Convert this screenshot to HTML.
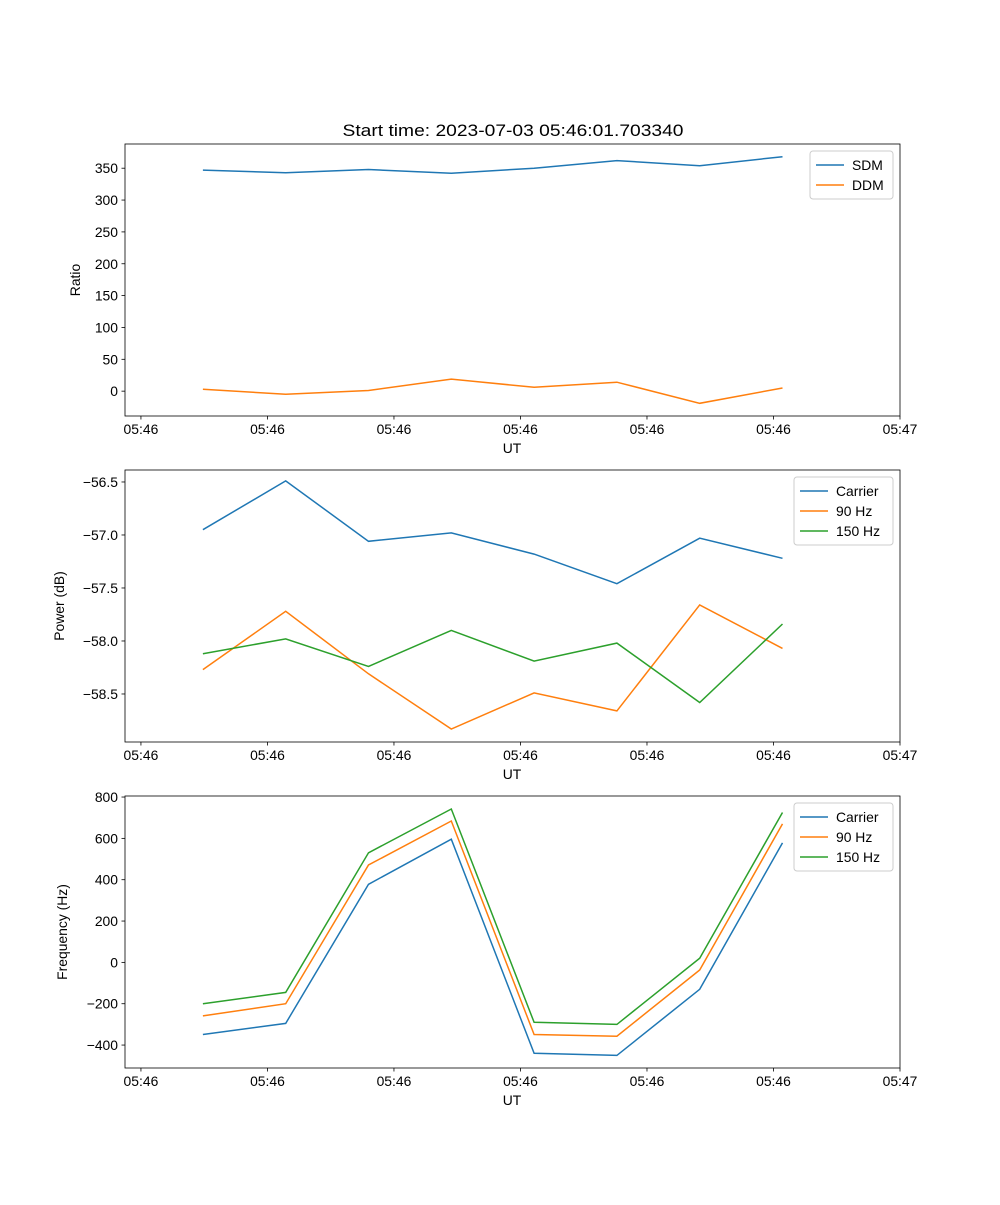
<!DOCTYPE html>
<html><head><meta charset="utf-8"><style>
body{margin:0;background:#fff}
svg text{font-family:"Liberation Sans","DejaVu Sans",sans-serif;fill:#000}
</style></head><body>
<svg id="fig" width="1000" height="1200" xmlns="http://www.w3.org/2000/svg">
<text x="513" y="136" font-size="17" text-anchor="middle" textLength="341" lengthAdjust="spacingAndGlyphs">Start time: 2023-07-03 05:46:01.703340</text>
</svg>
<script>
const timeIdx = [0,1,2,3,4,5,6,7];
const xTickVals = [0,1,2,3,4,5,6];
const xTickLabels = ["05:46","05:46","05:46","05:46","05:46","05:46","05:47"];
const sdm = [347,343,348,342,350,362,354,368];
const ddm = [3,-5,1,19,6,14,-19,5];
const powCarrier = [-56.95,-56.49,-57.06,-56.98,-57.18,-57.46,-57.03,-57.22];
const pow90 = [-58.27,-57.72,-58.31,-58.83,-58.49,-58.66,-57.66,-58.07];
const pow150 = [-58.12,-57.98,-58.24,-57.90,-58.19,-58.02,-58.58,-57.84];
const freqCarrier = [-349,-295,378,596,-440,-450,-130,578];
const freq90 = [-259,-200,471,684,-349,-357,-37,670];
const freq150 = [-200,-145,530,742,-290,-300,20,725];
const ratioTicks = [0,50,100,150,200,250,300,350];
const powTicks = [-56.5,-57.0,-57.5,-58.0,-58.5];
const freqTicks = [-400,-200,0,200,400,600,800];

const svg = document.getElementById('fig');
const NS = 'http://www.w3.org/2000/svg';
function mk(tag, attrs, parent){const e=document.createElementNS(NS,tag);for(const k in attrs)e.setAttribute(k,attrs[k]);(parent||svg).appendChild(e);return e;}
const L=125,R=900;
const tMin=-0.126,tMax=6.0;
const xs = t => L+(t-tMin)/(tMax-tMin)*(R-L);
const tOf = i => 0.49+0.6545*i;

function panel(name, top, bot, yMin, yMax, ticks, fmt, ylabel, ylabX, series, legendX){
  const ys = v => bot-(v-yMin)/(yMax-yMin)*(bot-top);
  const g = mk('g',{});
  
  
  series.forEach(s=>{
    const d = timeIdx.map((i,k)=>(k?'L':'M')+xs(tOf(i)).toFixed(1)+','+ys(s.vals[k]).toFixed(1)).join(' ');
    const p = mk('path',{d:d,fill:'none',stroke:s.color,'stroke-width':1.5},g);
    
    
  });
  const fr = mk('rect',{x:L,y:top,width:R-L,height:bot-top,fill:'none',stroke:'#000','stroke-width':0.8},g);
  
  
  xTickVals.forEach((t,k)=>{
    const x=xs(t);
    mk('line',{x1:x,x2:x,y1:bot,y2:bot+3.5,stroke:'#000','stroke-width':0.8},g);
    const tx = mk('text',{x:x,y:bot+18,'font-size':13.9,'text-anchor':'middle'},g);
    tx.textContent=xTickLabels[k];
    
    
  });
  const xl = mk('text',{x:512,y:bot+37,'font-size':13.9,'text-anchor':'middle'},g);
  xl.textContent='UT';
  
  
  ticks.forEach(v=>{
    const y=ys(v);
    mk('line',{x1:L,x2:L-3.5,y1:y,y2:y,stroke:'#000','stroke-width':0.8},g);
    const tx = mk('text',{x:L-7,y:y+5,'font-size':13.9,'text-anchor':'end'},g);
    tx.textContent=fmt(v);
    
    
  });
  const yl = mk('text',{x:ylabX,y:(top+bot)/2,'font-size':13.9,'text-anchor':'middle',transform:`rotate(-90 ${ylabX} ${(top+bot)/2})`},g);
  yl.textContent=ylabel;
  
  
  const lh = series.length*20+8;
  const lg = mk('g',{},g);
  
  
  mk('rect',{x:legendX,y:top+7,width:893-legendX,height:lh,rx:3,fill:'#fff',stroke:'#ccc','stroke-width':1,'fill-opacity':0.8},lg);
  series.forEach((s,k)=>{
    const y=top+7+14+k*20;
    mk('line',{x1:legendX+6,x2:legendX+34,y1:y,y2:y,stroke:s.color,'stroke-width':1.5},lg);
    const tx=mk('text',{x:legendX+42,y:y+5,'font-size':13.9},lg);
    tx.textContent=s.label;
    
    
  });
}
const minus = s => s.replace('-','\u2212');
panel('ratio-panel',144,416,-39,388,ratioTicks,v=>minus(String(v)),'Ratio',80,
  [{key:'sdm',label:'SDM',color:'#1f77b4',vals:sdm},{key:'ddm',label:'DDM',color:'#ff7f0e',vals:ddm}],810);
panel('power-panel',470,742,-58.953,-56.387,powTicks,v=>minus(v.toFixed(1)),'Power (dB)',64,
  [{key:'carrier-power',label:'Carrier',color:'#1f77b4',vals:powCarrier},{key:'90hz-power',label:'90 Hz',color:'#ff7f0e',vals:pow90},{key:'150hz-power',label:'150 Hz',color:'#2ca02c',vals:pow150}],794);
panel('frequency-panel',796,1068,-511,805,freqTicks,v=>minus(String(v)),'Frequency (Hz)',67,
  [{key:'carrier-freq',label:'Carrier',color:'#1f77b4',vals:freqCarrier},{key:'90hz-freq',label:'90 Hz',color:'#ff7f0e',vals:freq90},{key:'150hz-freq',label:'150 Hz',color:'#2ca02c',vals:freq150}],794);
</script>
</body></html>
